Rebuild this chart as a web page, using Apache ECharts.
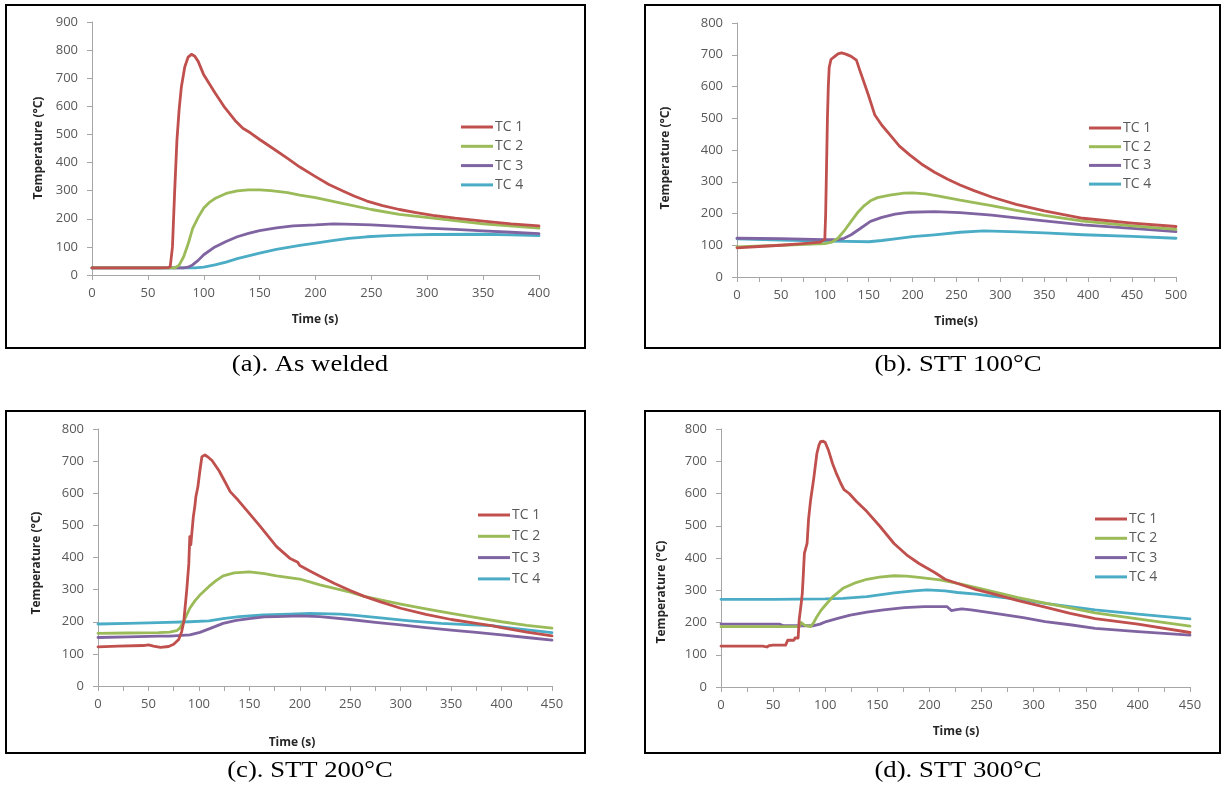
<!DOCTYPE html>
<html>
<head>
<meta charset="utf-8">
<script src="https://cdn.jsdelivr.net/npm/echarts@6/dist/echarts.min.js"></script>
<style>
html,body{margin:0;padding:0;background:#fff;}
#chart{width:1222px;height:787px;}
</style>
</head>
<body>
<div id="chart"></div>
<script>
// ---------- DATA ----------
const seriesNames = ['TC 1', 'TC 2', 'TC 3', 'TC 4'];
const captions = ['(a). As welded', '(b). STT 100°C', '(c). STT 200°C', '(d). STT 300°C'];
const xTitles = ['Time (s)', 'Time(s)', 'Time (s)', 'Time (s)'];
const yTitle = 'Temperature (°C)';
const xMaxes = [400, 500, 450, 450];
const yMaxes = [900, 800, 800, 800];

// (a) As welded
const aTC1 = [[0,25],[60,25],[68,26],[70,30],[72,100],[74,300],[76,480],[78,590],[80,670],[83,740],[86,775],[89,785],[92,778],[95,760],[100,712],[105,680],[110,648],[118,600],[128,550],[135,522],[142,505],[150,482],[162,450],[175,415],[186,384],[200,350],[212,322],[225,298],[235,280],[246,263],[260,247],[275,233],[290,222],[305,212],[325,202],[350,192],[375,182],[400,175]];
const aTC2 = [[0,25],[74,25],[78,35],[82,65],[86,110],[90,165],[95,205],[100,238],[105,258],[110,272],[120,290],[130,299],[140,303],[150,303],[160,300],[175,293],[186,284],[200,275],[225,254],[250,233],[275,216],[305,202],[350,182],[400,167]];
const aTC3 = [[0,25],[82,25],[86,28],[90,36],[95,52],[100,72],[110,100],[120,119],[130,136],[140,148],[150,158],[165,168],[180,175],[200,178],[216,182],[235,180],[250,178],[275,173],[300,167],[325,162],[350,157],[375,152],[400,147]];
const aTC4 = [[0,25],[92,25],[100,28],[110,36],[120,46],[130,58],[140,68],[150,78],[165,91],[186,105],[200,113],[215,122],[230,130],[246,136],[265,140],[285,143],[305,144],[350,145],[375,143],[400,140]];

// (b) STT 100°C
const bTC1 = [[0,92],[25,96],[50,100],[75,105],[95,110],[100,118],[101,200],[102,350],[103,500],[104,600],[105,660],[107,685],[110,692],[115,703],[119,706],[124,702],[130,695],[136,683],[140,650],[145,610],[150,570],[157,510],[165,478],[175,445],[185,412],[197,384],[210,356],[225,330],[240,308],[254,290],[270,272],[290,252],[318,229],[350,208],[394,185],[450,170],[500,159]];
const bTC2 = [[0,95],[50,100],[100,105],[108,110],[115,122],[122,145],[130,175],[138,205],[145,225],[152,240],[160,250],[174,258],[190,264],[200,265],[215,262],[230,255],[254,242],[275,232],[290,225],[318,210],[350,194],[394,176],[450,161],[500,150]];
const bTC3 = [[0,122],[50,121],[100,118],[115,118],[122,122],[130,133],[140,152],[152,175],[165,188],[180,198],[197,204],[225,206],[254,203],[290,195],[318,186],[350,177],[394,164],[450,153],[500,143]];
const bTC4 = [[0,120],[50,116],[100,113],[125,112],[150,111],[165,115],[180,120],[200,127],[225,133],[254,141],[281,145],[320,142],[350,139],[394,133],[450,128],[500,122]];

// (c) STT 200°C
const cTC1 = [[0,122],[20,124],[45,126],[50,128],[55,124],[62,120],[70,123],[75,130],[80,145],[83,170],[85,200],[88,300],[90,380],[91,465],[92,440],[94.5,527],[96,560],[97,589],[99,620],[101,670],[103,714],[106,719],[109,713],[113,702],[120,670],[126,635],[131,605],[139,578],[147,548],[160,500],[177,434],[190,398],[198,385],[200,375],[210,358],[220,342],[235,318],[250,297],[264,279],[280,262],[300,242],[325,223],[350,207],[375,195],[390,188],[400,182],[425,168],[450,156]];
const cTC2 = [[0,164],[30,165],[60,166],[71,168],[78,172],[81,180],[84,195],[87,215],[91,242],[96,265],[101,283],[110,310],[117,328],[124,343],[135,352],[150,355],[165,350],[177,343],[200,333],[220,315],[250,292],[264,279],[280,268],[300,255],[325,240],[350,226],[375,213],[400,200],[425,189],[450,180]];
const cTC3 = [[0,151],[30,153],[60,155],[71,155],[91,159],[101,167],[112,180],[124,195],[137,204],[150,210],[165,215],[177,216],[200,218],[220,216],[250,207],[275,198],[300,190],[325,182],[350,174],[375,167],[400,159],[425,151],[450,143]];
const cTC4 = [[0,193],[30,195],[60,197],[91,200],[110,203],[124,210],[140,216],[164,221],[190,224],[210,226],[240,224],[255,220],[280,212],[309,203],[340,195],[365,191],[390,188],[410,180],[430,173],[450,166]];

// (d) STT 300°C
const dTC1 = [[0,127],[40,127],[44,124],[46,128],[50,130],[62,130],[64,145],[70,145],[71,152],[74,152],[75,208],[77,260],[78,290],[79,350],[80,414],[82.6,445],[84,520],[86,580],[89,647],[92,724],[94,750],[95.5,761],[98,762],[100,758],[103,735],[107,693],[111,660],[115,631],[118,612],[123,600],[130,575],[140,544],[152,500],[166,445],[178,410],[190,383],[205,355],[215,334],[227,321],[245,302],[263,287],[285,268],[311,248],[335,228],[359,212],[400,195],[450,169]];
const dTC2 = [[0,187],[50,187],[75,187],[77,200],[78,203],[80,192],[86,187],[89,200],[92,218],[96,238],[101.5,259],[108,282],[117,306],[128,322],[140,334],[152,341],[166,345],[178,344],[190,340],[210,332],[227,321],[245,308],[263,294],[285,277],[311,260],[335,245],[359,230],[400,211],[450,189]];
const dTC3 = [[0,195],[56,195],[60,190],[89,190],[95,195],[101,203],[112,213],[124,223],[140,232],[156,239],[176,246],[195,249],[217,249],[221,237],[226,240],[231,242],[240,239],[263,228],[290,215],[311,203],[335,193],[359,182],[400,172],[450,161]];
const dTC4 = [[0,272],[50,272],[100,273],[117,275],[140,280],[166,292],[185,298],[198,301],[215,298],[227,293],[245,288],[263,280],[290,270],[311,259],[335,249],[359,239],[400,226],[450,211]];

const panelData = [
  [aTC1, aTC2, aTC3, aTC4],
  [bTC1, bTC2, bTC3, bTC4],
  [cTC1, cTC2, cTC3, cTC4],
  [dTC1, dTC2, dTC3, dTC4]
];

// ---------- LAYOUT / STYLE ----------
const colors = ['#C0504D', '#9BBB59', '#8064A2', '#4BACC6'];
const layout = [
  {grid:{left:92, top:22, width:447, height:253}, xInt:50, box:[6,5,579,343], legend:{left:456, top:115, gap:5.3}, xt:[315,320], yt:[39,148], cap:[310,365]},
  {grid:{left:737, top:23, width:439, height:254}, xInt:25, box:[645,5,575,343], legend:{left:1084, top:116, gap:4.7}, xt:[956,322], yt:[666,158], cap:[958,365]},
  {grid:{left:98, top:429, width:454, height:257}, xInt:25, box:[6,411,579,342], legend:{left:473, top:503, gap:7.3}, xt:[292,743], yt:[37,563], cap:[310,771]},
  {grid:{left:721, top:429, width:469, height:258}, xInt:25, box:[645,411,575,342], legend:{left:1090, top:507, gap:5.3}, xt:[956,732], yt:[662,592], cap:[958,771]}
];
const axisColor = '#A6A6A6';
const labelColor = '#595959';
const tickFont = '"Open Sans", Lato, sans-serif';

const grids = [], xAxes = [], yAxes = [], series = [], legends = [], graphics = [];
layout.forEach((L, i) => {
  grids.push(Object.assign({containLabel:false}, L.grid));
  xAxes.push({
    type:'value', gridIndex:i, min:0, max:xMaxes[i], interval:L.xInt,
    splitLine:{show:false},
    axisLine:{lineStyle:{color:axisColor, width:1}},
    axisTick:{show:true, length:5, lineStyle:{color:axisColor}},
    axisLabel:{color:labelColor, fontSize:13, fontFamily:tickFont, margin:12,
      formatter: v => (v % 50 === 0 ? String(v) : '')}
  });
  yAxes.push({
    type:'value', gridIndex:i, min:0, max:yMaxes[i], interval:100,
    splitLine:{show:false},
    axisLine:{show:true, lineStyle:{color:axisColor, width:1}},
    axisTick:{show:true, length:5, lineStyle:{color:axisColor}},
    axisLabel:{color:labelColor, fontSize:13, fontFamily:tickFont, margin:14}
  });
  panelData[i].forEach((d, k) => {
    series.push({
      type:'line', name:seriesNames[k], xAxisIndex:i, yAxisIndex:i,
      data:d, showSymbol:false, symbol:'none', smooth:false,
      lineStyle:{color:colors[k], width:2.8, join:'round', cap:'round'}, itemStyle:{color:colors[k]},
      z: 10 - k
    });
  });
  legends.push({
    orient:'vertical', left:L.legend.left, top:L.legend.top, itemGap:L.legend.gap,
    icon:'rect', itemWidth:32, itemHeight:3,
    textStyle:{color:labelColor, fontSize:14, fontFamily:tickFont, lineHeight:14, padding:[0,0,0,-3]},
    data:seriesNames, selectedMode:false
  });
  graphics.push({type:'rect', shape:{x:L.box[0], y:L.box[1], width:L.box[2], height:L.box[3]},
    style:{fill:'none', stroke:'#000', lineWidth:2}, z:100});
  graphics.push({type:'text', x:L.xt[0], y:L.xt[1],
    style:{text:xTitles[i], fill:'#262626', font:'bold 12px "Open Sans", Lato, sans-serif', align:'center', verticalAlign:'middle'}});
  graphics.push({type:'text', x:L.yt[0], y:L.yt[1], rotation:Math.PI/2,
    style:{text:yTitle, fill:'#262626', font:'bold 12px "Open Sans", Lato, sans-serif', align:'center', verticalAlign:'middle'}});
  graphics.push({type:'text', x:L.cap[0], y:L.cap[1], scaleX:1.16,
    style:{text:captions[i], fill:'#000', font:'23px "Liberation Serif", "Times New Roman", serif', align:'center', verticalAlign:'middle'}});
});

const chart = echarts.init(document.getElementById('chart'), null, {renderer:'canvas'});
chart.setOption({
  backgroundColor:'#fff',
  animation:false,
  grid:grids, xAxis:xAxes, yAxis:yAxes, series:series, legend:legends,
  graphic:{elements:graphics}
});
</script>
</body>
</html>
